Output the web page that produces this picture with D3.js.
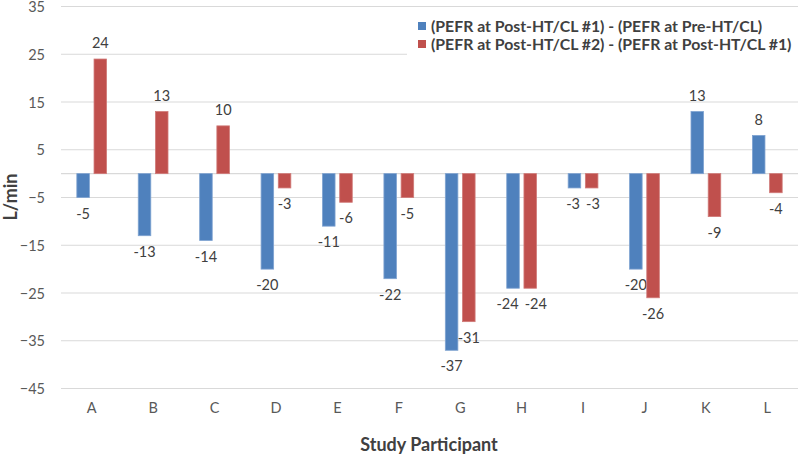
<!DOCTYPE html>
<html><head><meta charset="utf-8">
<script src="https://cdnjs.cloudflare.com/ajax/libs/d3/7.8.5/d3.min.js"></script>
<style>body{margin:0;background:#fff}svg{display:block;font-family:Lato,"Open Sans",sans-serif}</style>
</head><body><svg id="c" width="800" height="454"></svg>
<script>
const categories = ["A","B","C","D","E","F","G","H","I","J","K","L"];
const seriesNames = ["(PEFR at Post-HT/CL #1) - (PEFR at Pre-HT/CL)", "(PEFR at Post-HT/CL #2) - (PEFR at Post-HT/CL #1)"];
const series1 = [-5,-13,-14,-20,-11,-22,-37,-24,-3,-20,13,8];
const series2 = [24,13,10,-3,-6,-5,-31,-24,-3,-26,-9,-4];
const yTicks = [-45,-35,-25,-15,-5,5,15,25,35];
const colors = ["#4F81BD","#C0504D"];
const strokes = ["#7FA3D1","#D07A78"];

const svg = d3.select("#c");
const x = d3.scaleBand().domain(categories).range([61,798]).paddingInner(0).paddingOuter(0);
const y = d3.scaleLinear().domain([-45,35]).range([388.5,6.5]);
const x1 = d3.scaleBand().domain([0,1]).range([0, x.bandwidth()]).paddingInner(0.27).paddingOuter(0.92);

// gridlines
svg.append("g").selectAll("line").data(yTicks).join("line")
  .attr("x1",61).attr("x2",798).attr("y1",d=>y(d)).attr("y2",d=>y(d))
  .attr("stroke","#D9D9D9").attr("stroke-width",1.2);
// zero axis line
svg.append("line").attr("x1",61).attr("x2",798).attr("y1",y(0)).attr("y2",y(0))
  .attr("stroke","#D9D9D9").attr("stroke-width",1.2);

// y tick labels
const yAxis = d3.axisLeft(y).tickValues(yTicks).tickSize(0).tickPadding(0);
const ga = svg.append("g").attr("transform","translate(45,0)").call(yAxis);
ga.select(".domain").remove();
ga.selectAll("text").attr("font-size",14.5).attr("fill","#595959").attr("font-family","Lato,'Open Sans',sans-serif").attr("dy","0.36em");

// x labels
const xAxis = d3.axisBottom(x).tickSize(0).tickPadding(0);
const gx = svg.append("g").attr("transform","translate(0,403)").call(xAxis);
gx.select(".domain").remove();
gx.selectAll("text").attr("font-size",14.5).attr("fill","#595959").attr("font-family","Lato,'Open Sans',sans-serif").attr("dy","0.71em");

// bars
const all = [series1, series2];
const labelSel = [];
all.forEach((vals, si) => {
  const g = svg.append("g");
  g.selectAll("rect").data(vals).join("rect")
    .attr("x",(d,i)=>x(categories[i])+x1(si))
    .attr("width",x1.bandwidth())
    .attr("y",d=>y(Math.max(0,d)))
    .attr("height",d=>Math.abs(y(d)-y(0)))
    .attr("fill",colors[si]).attr("stroke",strokes[si]).attr("stroke-width",0.8);
  labelSel.push(g.selectAll("text").data(vals).join("text")
    .attr("x",(d,i)=>x(categories[i])+x1(si)+x1.bandwidth()/2)
    .attr("y",d=>d>=0 ? y(d)-16 : y(d)+16)
    .attr("dy","0.35em").attr("text-anchor","middle")
    .attr("font-size",14.5).attr("fill","#404040")
    .text(d=>d));
});
// resolve overlapping labels within each category
const n0 = labelSel[0].nodes(), n1 = labelSel[1].nodes();
categories.forEach((c,i)=>{
  const a = n0[i], b = n1[i];
  const ya = +a.getAttribute("y"), yb = +b.getAttribute("y");
  if (Math.abs(ya-yb) > 13) return;
  const xa = +a.getAttribute("x"), xb = +b.getAttribute("x");
  const need = (a.getComputedTextLength()+b.getComputedTextLength())/2 + 6;
  const gap = xb - xa;
  if (gap < need) {
    const s = (need-gap)/2;
    a.setAttribute("x", xa - s);
    b.setAttribute("x", xb + s);
  }
});

// legend
const lg = svg.append("g");
lg.append("rect").attr("x",407).attr("y",13).attr("width",393).attr("height",48).attr("fill","#fff");
seriesNames.forEach((n,i)=>{
  const cy = 26 + i*18;
  lg.append("rect").attr("x",418).attr("y",cy-4).attr("width",8).attr("height",8).attr("fill",colors[i]);
  lg.append("text").attr("x",431).attr("y",cy).attr("dy","0.35em")
    .attr("font-size",15.8).attr("font-weight","bold").attr("fill","#404040").text(n);
});

// axis titles
svg.append("text").attr("transform","translate(11,197) rotate(-90)").attr("text-anchor","middle")
  .attr("dy","0.35em")
  .attr("font-size",18).attr("font-weight","bold").attr("fill","#404040").text("L/min");
svg.append("text").attr("x",429).attr("y",445).attr("dy","0.35em").attr("text-anchor","middle")
  .attr("font-size",18).attr("font-weight","bold").attr("fill","#404040").text("Study Participant");
</script></body></html>
